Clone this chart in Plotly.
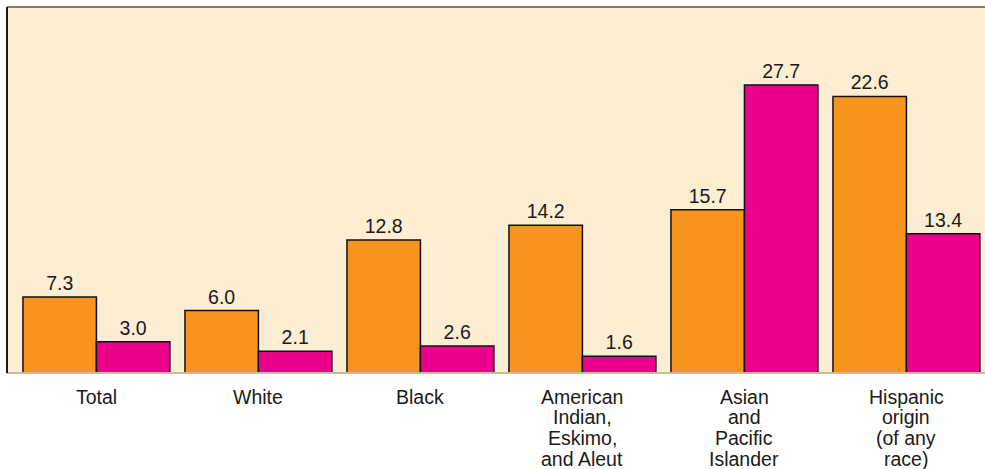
import plotly.graph_objects as go

categories = ["Total", "White", "Black", "American<br>Indian,<br>Eskimo,<br>and Aleut",
              "Asian<br>and<br>Pacific<br>Islander", "Hispanic<br>origin<br>(of any<br>race)"]
# bar heights as drawn in the picture
series_a_values = [7.3, 6.0, 12.8, 14.2, 15.7, 26.6]
series_b_values = [3.0, 2.1, 2.6, 1.6, 27.7, 13.4]
# printed value labels
series_a_labels = ["7.3", "6.0", "12.8", "14.2", "15.7", "22.6"]
series_b_labels = ["3.0", "2.1", "2.6", "1.6", "27.7", "13.4"]

ORANGE = "#F7941E"
MAGENTA = "#EC008C"
FONT = "Liberation Sans, Arial, sans-serif"
TXT = "#1a1a1a"
FS = 19.5

x_idx = list(range(len(categories)))

fig = go.Figure()
fig.add_trace(go.Bar(
    x=x_idx, y=series_a_values, name="Series A",
    marker=dict(color=ORANGE, line=dict(color="#111111", width=1.5)),
    text=series_a_labels, textposition="outside", cliponaxis=False,
    constraintext="none",
    textfont=dict(family=FONT, size=FS, color=TXT),
))
fig.add_trace(go.Bar(
    x=x_idx, y=series_b_values, name="Series B",
    marker=dict(color=MAGENTA, line=dict(color="#111111", width=1.5)),
    text=series_b_labels, textposition="outside", cliponaxis=False,
    constraintext="none",
    textfont=dict(family=FONT, size=FS, color=TXT),
))

# category labels, one annotation per line for tight line spacing
annotations = []
line_step = 20.8
for i, cat in enumerate(categories):
    for j, line in enumerate(cat.split("<br>")):
        annotations.append(dict(
            x=i, xref="x", y=0, yref="paper", text=line, showarrow=False,
            xanchor="center", yanchor="middle", yshift=-(23.5 + j * line_step),
            font=dict(family=FONT, size=FS, color=TXT),
        ))

fig.update_layout(
    width=985, height=469,
    margin=dict(l=7, r=0, t=7, b=96),
    paper_bgcolor="white", plot_bgcolor="#FDEDD3",
    barmode="group", bargap=0.093, bargroupgap=0,
    showlegend=False,
    xaxis=dict(range=[-0.552, 5.485], showticklabels=False, showgrid=False,
               zeroline=False, showline=False, ticks=""),
    yaxis=dict(range=[0, 35.2], showticklabels=False, showgrid=False,
               zeroline=False, showline=False, ticks=""),
    annotations=annotations,
    shapes=[
        dict(type="line", xref="paper", yref="paper", x0=0, x1=1, y0=1, y1=1,
             line=dict(color="#8C7B5E", width=2)),
        dict(type="line", xref="paper", yref="paper", x0=0, x1=1, y0=0, y1=0,
             line=dict(color="#CDB995", width=2)),
        dict(type="line", xref="paper", yref="paper", x0=0, x1=0, y0=0, y1=1,
             line=dict(color="#1a1a1a", width=2)),
    ],
)

fig.write_html("out.html")
